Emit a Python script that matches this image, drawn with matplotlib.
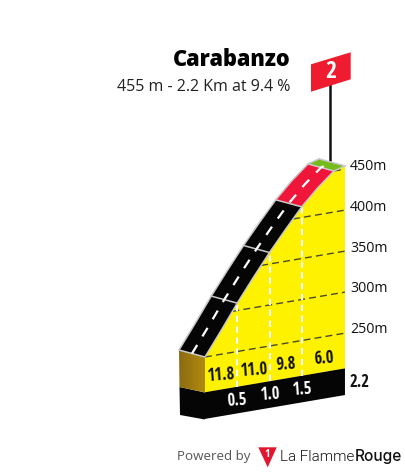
import numpy as np
import matplotlib
matplotlib.use("Agg")
import matplotlib.pyplot as plt
from matplotlib.transforms import Affine2D
from matplotlib.patches import Polygon

# ---- data
title = "Carabanzo"
subtitle = "455 m - 2.2 Km at 9.4 %"
profile_km = [0, 0.25, 0.5, 0.75, 1.0, 1.25, 1.5, 1.75, 2.0, 2.17]
profile_alt = [250, 279, 309, 337, 364, 389, 413, 433, 450, 454]
sector_ends = [0.5, 1.0, 1.5]
sector_colors = ["#050505", "#050505", "#050505", "#f0163a", "#76bb1c"]
sector_breaks = [0, 0.5, 1.0, 1.5, 2.0, 2.17]
gradients = ["11.8", "11.0", "9.8", "6.0"]
gradient_km = [0.25, 0.75, 1.25, 1.84]
km_labels = ["0.5", "1.0", "1.5"]
km_total_label = "2.2"
alt_ticks = [250, 300, 350, 400, 450]
base_alt = 207
floor_alt = 174.5
climb_number = "2"
COND = "Open Sans Condensed"

W, H = 405, 473
fig = plt.figure(figsize=(W / 100, H / 100), dpi=100, facecolor="white")
ax = fig.add_axes([0, 0, 1, 1])
ax.set_xlim(0, W)
ax.set_ylim(H, 0)
ax.axis("off")

# oblique projection (km, altitude) -> canvas
proj = Affine2D.from_values(64.5, -11.0, 0, -0.82, 205, 357 + 0.82 * 250)
tf = proj + ax.transData
tf_left = proj + Affine2D().translate(-26, -7) + ax.transData
tf_mid = proj + Affine2D().translate(-13, -3.5) + ax.transData
canvas = ax.transData.inverted()

km = np.array(profile_km, float)
alt = np.array(profile_alt, float)
kend = km[-1]


def alt_at(k):
    return np.interp(k, km, alt)


# yellow body
ax.add_patch(Polygon(list(zip(km, alt)) + [(kend, base_alt), (0, base_alt)],
                     closed=True, fc="#fff200", ec="none", transform=tf, zorder=1))
# black base band
ax.add_patch(Polygon([(0, base_alt), (kend, base_alt), (kend, floor_alt), (0, floor_alt)],
                     closed=True, fc="#050505", ec="none", transform=tf, zorder=2))
# left band face
ax.add_patch(Polygon([(205, 392.5), (179.5, 387), (180, 415), (205, 419.5)],
                     closed=True, fc="#050505", ec="none", zorder=2))
# brown front face with gradient
grad = np.linspace(0, 1, 64)[None, :]
cmap = matplotlib.colors.LinearSegmentedColormap.from_list("b", ["#8c6a12", "#b18b0e"])
im = ax.imshow(grad, extent=(179, 205, 393, 349), cmap=cmap, aspect="auto", zorder=3)
face = Polygon([(179, 350), (205, 357), (205, 392.5), (179.5, 387)], closed=True,
               transform=ax.transData, fc="none", ec="none")
ax.add_patch(face)
im.set_clip_path(face)
ax.set_xlim(0, W)
ax.set_ylim(H, 0)

# altitude dashed lines and labels
for a in alt_ticks:
    k0 = np.interp(a, alt, km)
    ax.plot([k0, kend], [a, a], transform=tf, color="#4a4a30", lw=1.0,
            dashes=(5, 3), zorder=4)
    ax.text(350, 329.5 - (a - 250) * 0.815, f"{a}m", fontsize=10.2, family="Open Sans",
            va="center", ha="left", color="#111111")

# km verticals
for k in sector_ends:
    ax.plot([k, k], [base_alt, alt_at(k)], transform=tf, color="white", lw=1.5,
            dashes=(3, 2.2), zorder=5)

# road surface by sector
for i, c in enumerate(sector_colors):
    k0, k1 = sector_breaks[i], sector_breaks[i + 1]
    kk = km[(km >= k0) & (km <= k1)]
    aa = alt_at(kk)
    right = canvas.transform(tf.transform(np.c_[kk, aa]))
    left = canvas.transform(tf_left.transform(np.c_[kk, aa]))
    ax.add_patch(Polygon(np.vstack([right, left[::-1]]), closed=True, fc=c, ec="none", zorder=6))

ax.plot(km, alt, transform=tf, color="#c8c8c8", lw=1.1, zorder=7, solid_capstyle="butt")
ax.plot(km, alt, transform=tf_left, color="#c8c8c8", lw=1.1, zorder=7, solid_capstyle="butt")
for k in sector_breaks:
    a = alt_at(k)
    p = canvas.transform(tf.transform((k, a)))
    q = canvas.transform(tf_left.transform((k, a)))
    ax.plot([p[0], q[0]], [p[1], q[1]], color="#c8c8c8", lw=1.1, zorder=7)
ax.plot(km, alt, transform=tf_mid, color="white", lw=1.6, dashes=(4.5, 4.5), zorder=8)

# labels on the body
for k, g in zip(gradient_km, gradients):
    x, y = canvas.transform(tf.transform((k, base_alt)))
    ax.text(x, y - 14, g, fontsize=12, fontweight="bold", family=COND, rotation=4,
            rotation_mode="anchor", ha="center", va="center", color="#111111", zorder=9)
for k, t in zip(sector_ends, km_labels):
    x, y = canvas.transform(tf.transform((k, floor_alt)))
    ax.text(x, y - 13.5, t, fontsize=12, fontweight="bold", family=COND, rotation=4,
            rotation_mode="anchor", ha="center", va="center", color="white", zorder=9)
ax.text(349.5, 381.5, km_total_label, fontsize=12, fontweight="bold", family=COND,
        ha="left", va="center", color="#111111")

# title
ax.text(290.5, 60, title, fontsize=15.7, fontweight=800, family="Open Sans", ha="right",
        va="center", color="black")
ax.text(290, 87, subtitle, fontsize=11.5, family="Open Sans", ha="right", va="center",
        color="#222222")

# flag
ax.plot([330, 330], [85, 160], color="#111111", lw=1.8, zorder=5)
ax.add_patch(Polygon([(311, 64.3), (350.7, 52.3), (350.7, 79.3), (311, 91.7)], closed=True,
                     fc="#ee1c2e", ec="none", zorder=6))
ax.text(331, 71.5, climb_number, fontsize=17, fontweight="bold", family=COND,
        color="white", ha="center", va="center", zorder=7)

# footer
ax.text(177, 456, "Powered by", fontsize=9.6, family="Open Sans", color="#555555", ha="left",
        va="center")
ax.add_patch(Polygon([(258.3, 447.3), (276.7, 447.3), (267.7, 467.3)], closed=True,
                     fc="#e3142d", ec="none", zorder=6))
ax.text(267.6, 454, "1", fontsize=7, fontweight="bold", family="Open Sans", color="white",
        ha="center", va="center", zorder=7)
ax.text(280, 456.5, "La Flamme", fontsize=10.9, family="Roboto", fontweight=300, color="#111111",
        ha="left", va="center")
ax.text(355, 456.5, "Rouge", fontsize=11.1, family="Inter", fontweight="medium", color="#111111",
        ha="left", va="center")

fig.savefig("out.png", dpi=100, facecolor="white")
